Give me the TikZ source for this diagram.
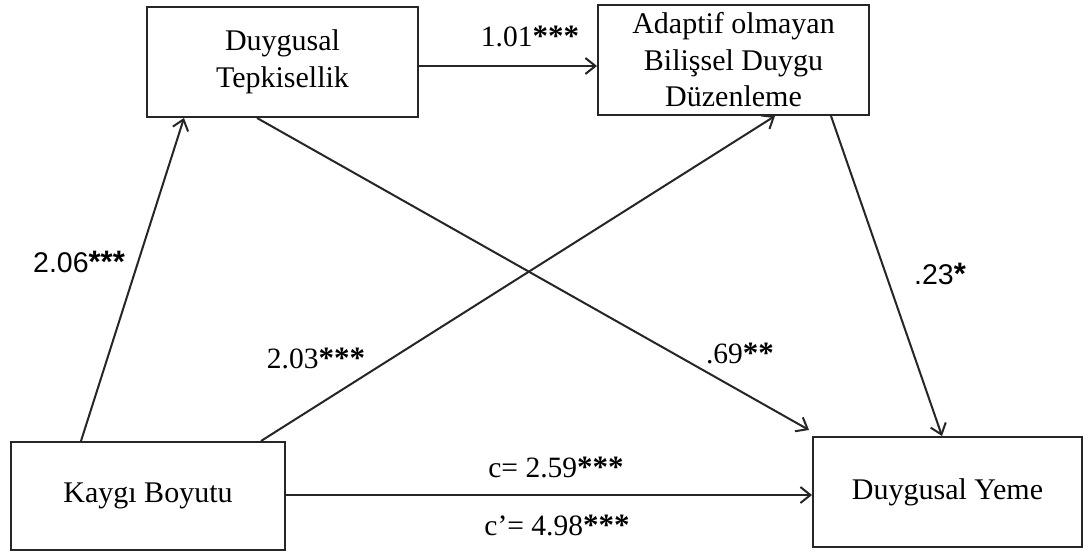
\documentclass[tikz,border=0pt]{standalone}
\usepackage{fontspec}
\setmainfont{Liberation Serif}
\newfontfamily\sansf{Liberation Sans}
\usetikzlibrary{arrows.meta}
\newcommand\stars[1]{{\fontsize{31}{32}\selectfont\bfseries #1}}
\begin{document}
\begin{tikzpicture}[x=1pt,y=-1pt,
  box/.style={draw=black!85, line width=2pt, minimum height=110pt,
    inner sep=0pt, align=center, font=\fontsize{30}{36.5}\selectfont},
  conn/.style={draw=black!85, line width=2pt,
    -{Straight Barb[length=10pt,width=16pt]}},
  lab/.style={inner sep=0pt, font=\fontsize{29.5}{32}\selectfont},
  slab/.style={inner sep=0pt, font=\sansf\fontsize{28.5}{32}\selectfont}]
\useasboundingbox (0,0) rectangle (1083,553);

% variables
\node[box, minimum width=271pt] (dt) at (282.5,62) {Duygusal\\Tepkisellik};
\node[box, minimum width=271pt] (ad) at (733.5,60) {Adaptif olmayan\\Bilişsel Duygu\\Düzenleme};
\node[box, minimum width=274pt, minimum height=108pt] (kb) at (148,496) {Kaygı Boyutu};
\node[box, minimum width=269pt] (dy) at (947.5,492) {Duygusal Yeme};

% paths
\draw[conn] ([yshift=-4pt]dt.east) -- ([yshift=-4pt]dt.east -| ad.west);
\draw[conn] ([xshift=71pt]kb.north west) -- ([xshift=38pt]dt.south west);
\draw[conn] ([xshift=251pt]kb.north west) -- ([xshift=178pt]ad.south west);
\draw[conn] ([xshift=111pt]dt.south west) -- ([xshift=-3pt,yshift=6pt]dy.north west);
\draw[conn] ([xshift=234pt]ad.south west) -- ([xshift=130pt]dy.north west);
\draw[conn] ([yshift=1pt]kb.east) -- ([yshift=1pt]kb.east -| dy.west);

% coefficients
\node[lab]  (l1) at (530,36)  {1.01\stars{***}};
\node[slab] (l2) at (79,262)  {2.06\stars{***}};
\node[lab]  (l3) at (316,358) {2.03\stars{***}};
\node[lab]  (l4) at (740,353) {.69\stars{**}};
\node[slab] (l5) at (940,274) {.23\stars{*}};
\node[lab]  (l6) at (556,467) {c= 2.59\stars{***}};
\node[lab]  (l7) at (557,525) {c’= 4.98\stars{***}};
\end{tikzpicture}
\end{document}
